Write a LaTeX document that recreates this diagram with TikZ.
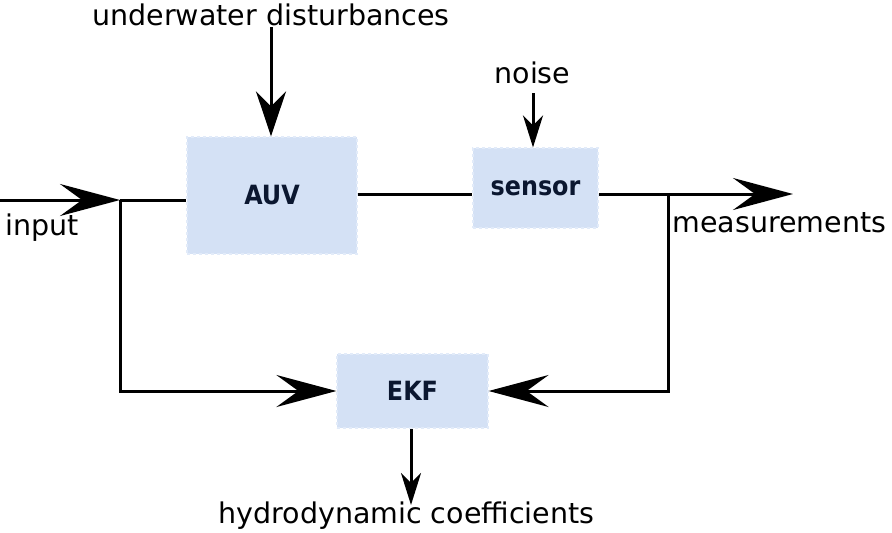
\documentclass[tikz,border=0pt]{standalone}
\usepackage{fontspec}
\setmainfont{DejaVu Sans}
\newfontfamily\boxfont{DejaVu Sans Condensed}
\usetikzlibrary{arrows.meta, positioning}

\definecolor{boxfill}{HTML}{D4E1F5}
\definecolor{boxline}{HTML}{E2EBF9}
\definecolor{navy}{HTML}{0B1730}

\begin{document}
\begin{tikzpicture}[x=1pt, y=-1pt, line width=3pt,
    block/.style={rectangle, draw=boxline, dashed, line width=1.2pt, fill=boxfill, inner sep=0pt,
        text=navy, font=\boxfont\bfseries\fontsize{26.5}{30}\selectfont},
    lbl/.style={inner sep=0pt, anchor=base west, font=\fontsize{28.5}{34}\selectfont},
    bigarrow/.style={-{Stealth[length=60pt, width=32pt, inset=22pt]}},
    midarrow/.style={-{Stealth[length=45pt, width=30pt, inset=15pt]}},
    smallarrow/.style={-{Stealth[length=32pt, width=20pt, inset=10pt]}}]
    \useasboundingbox (0,0) rectangle (892,533);

    \node[block, minimum width=170pt, minimum height=117pt] (auv) at (272,195.5) {AUV};
    \node[block, minimum width=125pt, minimum height=80pt] (sensor) at (535.5,188) {sensor};
    \node[block, minimum width=151pt, minimum height=74pt] (ekf) at (412.5,391) {EKF};

    \node[lbl] (dist) at (91,25) {underwater disturbances};
    \node[lbl] (noise) at (493,83) {noise};
    \node[lbl] (input) at (4,235) {input};
    \node[lbl] (meas) at (671,232) {measurements};
    \node[lbl] (coef) at (217,523) {hydrodynamic coefficients};

    \coordinate (in) at (0,200);
    \coordinate (split1) at (120,200);
    \coordinate (split2) at (668,194);
    \coordinate (out) at (793,194);
    \coordinate (disttop) at (271,27);
    \coordinate (noisetop) at (533,93);
    \coordinate (coefend) at (411,505);

    \draw[bigarrow] (in) -- (split1);
    \draw (split1) -- (split1 -| auv.west);
    \draw (auv.east |- 0,194) -- (sensor.west |- 0,194);
    \draw[bigarrow] (sensor.east |- out) -- (out);
    % feedback into the filter
    \draw[bigarrow] (split1) |- (ekf.west);
    \draw[bigarrow] (split2) |- (ekf.east);
    \draw[midarrow] (disttop) -- (disttop |- auv.north);
    \draw[smallarrow] (noisetop) -- (noisetop |- sensor.north);
    \draw[smallarrow] (ekf.south -| coefend) -- (coefend);
\end{tikzpicture}
\end{document}
